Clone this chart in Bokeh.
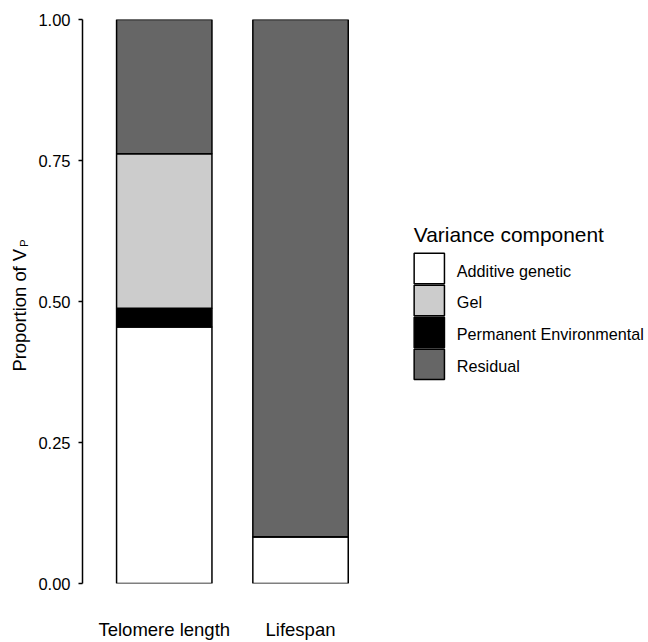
import math
from bokeh.plotting import figure
from bokeh.layouts import row
from bokeh.models import (ColumnDataSource, FixedTicker, Range1d, CustomJSTickFormatter)
from bokeh.core.properties import value
from bokeh.embed import file_html
from bokeh.resources import INLINE

traits = ["Telomere length", "Lifespan"]
components = ["Additive genetic", "Gel", "Permanent Environmental", "Residual"]
additive = [0.455, 0.083]
gel = [0.274, 0.0]
perm_env = [0.033, 0.0]
residual = [0.238, 0.917]
colors = {"Additive genetic": "#FFFFFF", "Gel": "#CCCCCC",
          "Permanent Environmental": "#000000", "Residual": "#666666"}
y_ticks = [0.0, 0.25, 0.5, 0.75, 1.0]
legend_title = "Variance component"
y_title = "Proportion of V"
y_title_sub = "P"

FONT = "Liberation Sans"
H = 642
TOP, BOTTOM = 19, 58
LAB_W, PLOT_W, LEG_W = 35, 364, 249

xpos = [i + 1 for i in range(len(traits))]
src = ColumnDataSource(dict(x=xpos, add=additive, gel=gel, pe=perm_env, res=residual))

# stacking order from bottom: additive, permanent environmental, gel, residual
stack_cols = ["add", "pe", "gel", "res"]
stack_names = ["Additive genetic", "Permanent Environmental", "Gel", "Residual"]

frame_w = PLOT_W - 46
p = figure(x_range=Range1d(0.4, 0.4 + frame_w / 136.7), y_range=Range1d(0, 1),
           width=PLOT_W, height=H, output_backend="svg", toolbar_location=None,
           min_border_left=46, min_border_right=0, min_border_top=TOP, min_border_bottom=BOTTOM)

p.vbar_stack(stack_cols, x="x", width=0.7, source=src,
             fill_color=[colors[n] for n in stack_names],
             line_color="black", line_width=1.5)

p.outline_line_color = None
p.grid.grid_line_color = None

yax = p.yaxis[0]
yax.ticker = FixedTicker(ticks=y_ticks)
yax.formatter = CustomJSTickFormatter(code="return tick.toFixed(2);")
yax.axis_line_width = 1.5
yax.axis_line_color = "black"
yax.major_tick_line_width = 1.5
yax.major_tick_out = 4
yax.major_tick_in = 0
yax.minor_tick_line_color = None
yax.major_label_text_font = FONT
yax.major_label_text_font_size = "16.5px"
yax.major_label_text_color = "black"
yax.major_label_standoff = 8

xax = p.xaxis[0]
xax.ticker = FixedTicker(ticks=xpos)
xax.major_label_overrides = {x: t for x, t in zip(xpos, traits)}
xax.axis_line_color = None
xax.major_tick_line_color = None
xax.minor_tick_line_color = None
xax.major_label_text_font = FONT
xax.major_label_text_font_size = "18.5px"
xax.major_label_text_color = "black"
xax.major_label_standoff = 29

# side figures use pixel coordinates: data x = page x, data y = H - page y
def side_fig(width, x0):
    f = figure(x_range=Range1d(x0, x0 + width), y_range=Range1d(BOTTOM, H - TOP),
               width=width, height=H, output_backend="svg", toolbar_location=None,
               min_border_left=0, min_border_right=0, min_border_top=TOP,
               min_border_bottom=BOTTOM, x_axis_location=None, y_axis_location=None)
    f.outline_line_color = None
    f.grid.grid_line_color = None
    return f

# y-axis title with subscript
lab = side_fig(LAB_W, 0)
lab.text(x=[19.0], y=[H - 371.7], text=[y_title], angle=math.pi / 2,
         text_font=value(FONT), text_font_size="18.4px", text_align="left",
         text_baseline="middle", text_color="black")
lab.text(x=[23.0], y=[H - 247.0], text=[y_title_sub], angle=math.pi / 2,
         text_font=value(FONT), text_font_size="11.5px", text_align="left",
         text_baseline="middle", text_color="black")

# legend
x_leg = LAB_W + PLOT_W
leg = side_fig(LEG_W, x_leg)
key_cy = [268.5 + 32 * i for i in range(len(components))]
leg_src = ColumnDataSource(dict(
    kx=[428.8] * len(components), ky=[H - c for c in key_cy],
    ty=[H - c - 2 for c in key_cy], tx=[456.3] * len(components),
    fill=[colors[c] for c in components], label=components))
leg.rect(x="kx", y="ky", width=30.3, height=30.5, source=leg_src,
         fill_color="fill", line_color="black", line_width=1.5)
leg.text(x="tx", y="ty", text="label", source=leg_src, text_font=value(FONT),
         text_font_size="16.2px", text_align="left", text_baseline="middle",
         text_color="black")
leg.text(x=[413.3], y=[H - 234.0], text=[legend_title], text_font=value(FONT),
         text_font_size="20.9px", text_align="left", text_baseline="middle",
         text_color="black")

layout = row(lab, p, leg, spacing=0)
open("out.html", "w").write(file_html(layout, INLINE))
